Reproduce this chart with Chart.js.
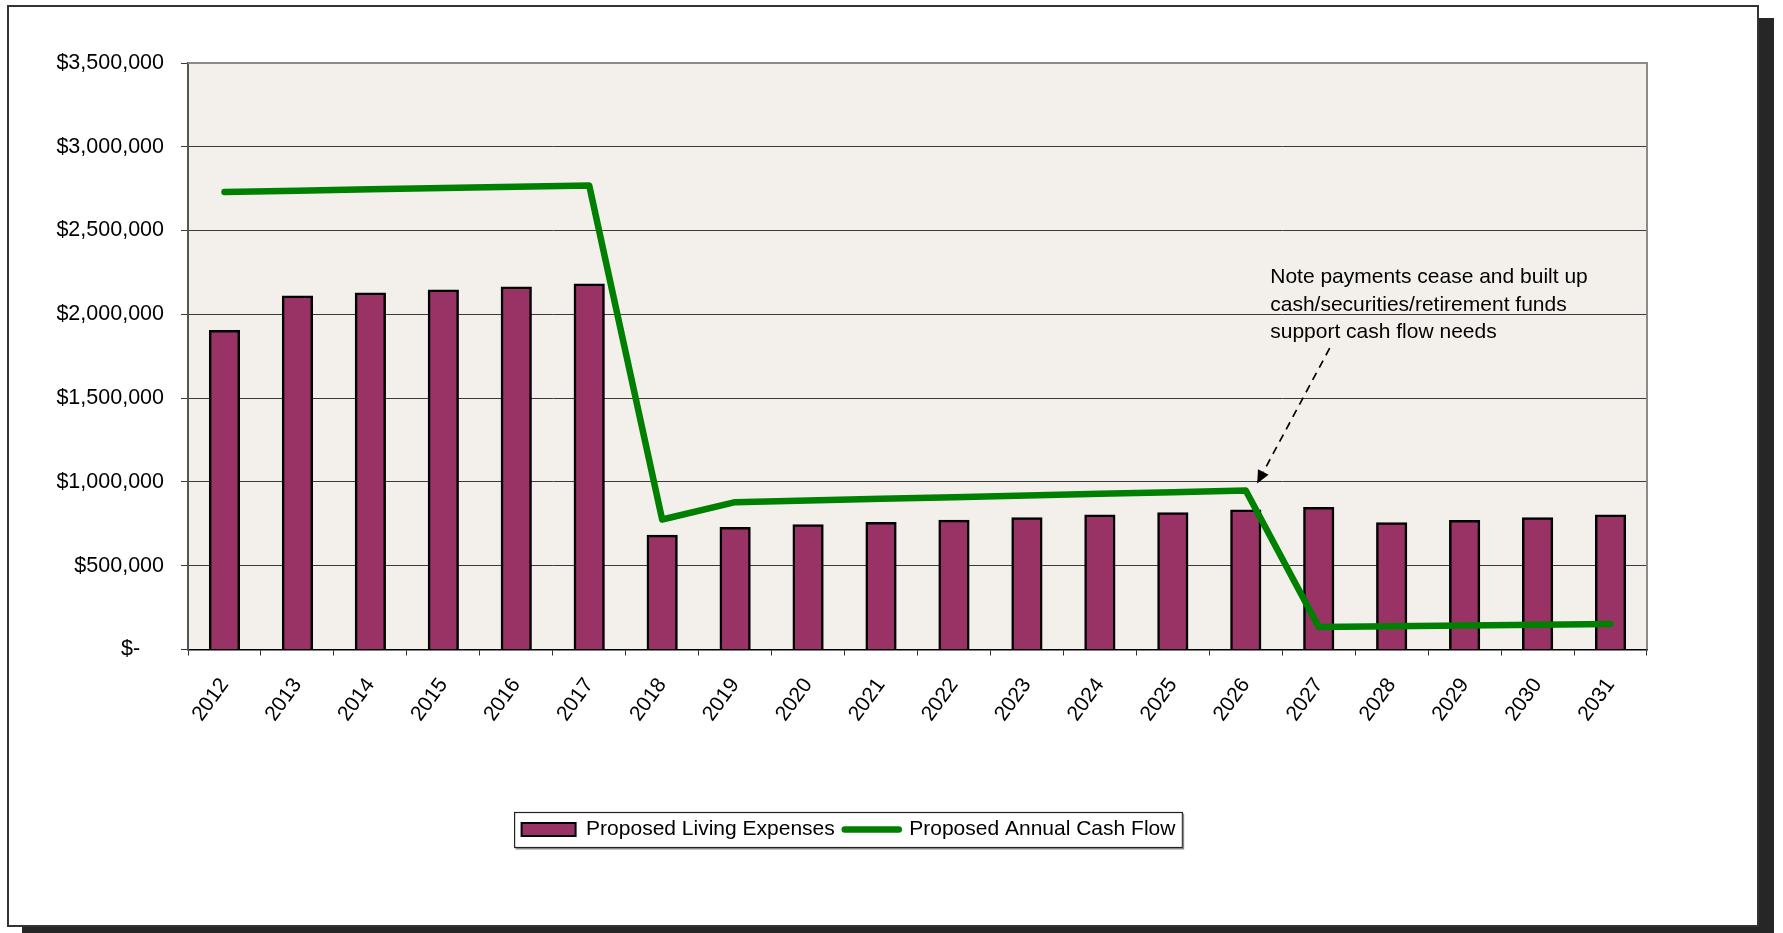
<!DOCTYPE html>
<html><head><meta charset="utf-8">
<script src="https://cdn.jsdelivr.net/npm/chart.js@4.4.1/dist/chart.umd.min.js"></script>
<style>
html,body{margin:0;padding:0;background:#fff;overflow:hidden;width:1783px;height:933px;}
#frame{position:absolute;left:7px;top:5px;width:1748px;height:918px;border:2px solid #333;background:#fff;box-shadow:15px 13px 0 #262626;}
#wrap{position:absolute;left:0;top:0;width:1783px;height:933px;}
</style></head><body>
<div id="frame"></div>
<div id="wrap"><canvas id="c" width="1783" height="933"></canvas></div>
<script>
// ---- data ----
const years = ['2012','2013','2014','2015','2016','2017','2018','2019','2020','2021','2022','2023','2024','2025','2026','2027','2028','2029','2030','2031'];
const livingExpenses = [1901000,2106000,2124000,2142000,2160000,2178000,679000,725000,741000,755000,769000,783000,799000,813000,829000,845000,753000,767000,783000,799000];
const annualCashFlow = [2730000,2738000,2746000,2754000,2762000,2769000,776000,879000,889000,899000,909000,919000,929000,939000,949000,134000,139000,143000,148000,152000];
const yTickValues = [0,500000,1000000,1500000,2000000,2500000,3000000,3500000];
const yTickLabels = ['$-    ','$500,000','$1,000,000','$1,500,000','$2,000,000','$2,500,000','$3,000,000','$3,500,000'];
const seriesNames = ['Proposed Living Expenses','Proposed Annual Cash Flow'];
const noteLines = ['Note payments cease and built up','cash/securities/retirement funds','support cash flow needs'];

// annotation anchors in data space [category index, value]
const noteAt = [14.335, 2186000];
const arrowFrom = [15.15, 1798000];
const arrowTo = [14.156, 991000];

const FONT = '"Liberation Sans", Arial, sans-serif';
Chart.defaults.font.family = FONT;
Chart.defaults.font.size = 21;
Chart.defaults.color = '#000';

const decor = {
  id: 'decor',
  beforeDraw(chart) {
    const {ctx, chartArea: a} = chart;
    ctx.save();
    ctx.fillStyle = '#F3F0EB';
    ctx.fillRect(a.left, a.top, a.right - a.left, a.bottom - a.top);
    ctx.restore();
  },
  beforeDatasetsDraw(chart) {
    const {ctx, chartArea: a} = chart;
    ctx.save();
    ctx.strokeStyle = '#8a8a8a';
    ctx.lineWidth = 2;
    ctx.beginPath();
    ctx.moveTo(a.left, a.top);
    ctx.lineTo(a.right, a.top);
    ctx.lineTo(a.right, a.bottom);
    ctx.stroke();
    ctx.restore();
  },
  afterDraw(chart) {
    const {ctx} = chart;
    const xs = chart.scales.x, ys = chart.scales.y;
    ctx.save();
    // annotation text
    ctx.font = '21px ' + FONT;
    ctx.fillStyle = '#000';
    ctx.textAlign = 'left';
    ctx.textBaseline = 'alphabetic';
    const tx = xs.getPixelForValue(noteAt[0]);
    const ty = ys.getPixelForValue(noteAt[1]);
    noteLines.forEach((t, i) => ctx.fillText(t, tx, ty + i * 27.5));
    // dashed arrow
    const x1 = xs.getPixelForValue(arrowFrom[0]), y1 = ys.getPixelForValue(arrowFrom[1]);
    const x2 = xs.getPixelForValue(arrowTo[0]), y2 = ys.getPixelForValue(arrowTo[1]);
    const ang = Math.atan2(y2 - y1, x2 - x1);
    const hl = 13, hw = 6;
    const bx = x2 - Math.cos(ang) * hl, by = y2 - Math.sin(ang) * hl;
    ctx.strokeStyle = '#000';
    ctx.lineWidth = 1.7;
    ctx.setLineDash([8, 6]);
    ctx.beginPath(); ctx.moveTo(x1, y1); ctx.lineTo(bx, by); ctx.stroke();
    ctx.setLineDash([]);
    ctx.beginPath();
    ctx.moveTo(x2, y2);
    ctx.lineTo(bx + Math.sin(ang) * hw, by - Math.cos(ang) * hw);
    ctx.lineTo(bx - Math.sin(ang) * hw, by + Math.cos(ang) * hw);
    ctx.closePath(); ctx.fill();
    // legend frame
    const hb = chart.legend.legendHitBoxes;
    if (hb && hb.length) {
      const l = hb[0].left - 7, r = hb[hb.length - 1].left + hb[hb.length - 1].width + 7;
      const t = hb[0].top - 6.5, b = hb[0].top + hb[0].height + 7.5;
      ctx.strokeStyle = '#222';
      ctx.lineWidth = 1.2;
      ctx.strokeRect(l, t, r - l, b - t);
      ctx.strokeStyle = '#888';
      ctx.lineWidth = 1.5;
      ctx.beginPath(); ctx.moveTo(l + 1, b + 1.2); ctx.lineTo(r + 1, b + 1.2); ctx.lineTo(r + 1, t + 1); ctx.stroke();
    }
    ctx.restore();
  }
};

new Chart(document.getElementById('c'), {
  type: 'bar',
  data: {
    labels: years,
    datasets: [
      {
        type: 'bar',
        label: seriesNames[0],
        data: livingExpenses,
        backgroundColor: '#993366',
        borderColor: '#000',
        borderWidth: 2.5,
        inflateAmount: 1,
        barPercentage: 0.40,
        categoryPercentage: 1,
        order: 1
      },
      {
        type: 'line',
        label: seriesNames[1],
        data: annualCashFlow,
        borderColor: '#008000',
        backgroundColor: '#008000',
        borderWidth: 6.5,
        borderCapStyle: 'round',
        borderJoinStyle: 'round',
        pointRadius: 0,
        tension: 0,
        fill: false,
        order: 0
      }
    ]
  },
  options: {
    responsive: false,
    animation: false,
    devicePixelRatio: 1,
    layout: { padding: { left: 50, right: 136, top: 63, bottom: 83 } },
    plugins: {
      tooltip: { enabled: false },
      legend: {
        position: 'bottom',
        labels: {
          usePointStyle: true,
          pointStyleWidth: 54,
          boxHeight: 13,
          padding: 10,
          font: { size: 21 },
          color: '#000',
          sort: (a, b) => a.datasetIndex - b.datasetIndex,
          generateLabels: (chart) => {
            const items = Chart.defaults.plugins.legend.labels.generateLabels(chart);
            items.forEach(it => {
              if (it.datasetIndex === 0) {
                it.pointStyle = 'rect'; it.fillStyle = '#993366'; it.strokeStyle = '#000'; it.lineWidth = 2;
              } else {
                it.pointStyle = 'line'; it.strokeStyle = '#008000'; it.lineWidth = 6.5; it.lineCap = 'round';
              }
            });
            return items;
          }
        }
      }
    },
    scales: {
      x: {
        offset: true,
        grid: { offset: true, drawOnChartArea: false, drawTicks: true, tickLength: 6, color: '#333', lineWidth: 1 },
        border: { display: true, color: '#000', width: 1.5 },
        ticks: { autoSkip: false, minRotation: 54, maxRotation: 54, padding: 18, font: { size: 21 }, color: '#000' },
        afterFit: (s) => { s.height = 159.5; }
      },
      y: {
        min: 0,
        max: 3500000,
        afterBuildTicks: (s) => { s.ticks = yTickValues.map(v => ({ value: v })); },
        grid: { color: '#3a3a3a', lineWidth: 1, tickLength: 7, drawTicks: true },
        border: { display: true, color: '#555', width: 2 },
        ticks: {
          padding: 17,
          font: { size: 21.5 },
          color: '#000',
          callback: (v) => { const i = yTickValues.indexOf(v); return i >= 0 ? yTickLabels[i] : ''; }
        },
        afterFit: (s) => { s.width = 138; }
      }
    }
  },
  plugins: [decor]
});
</script>
</body></html>
